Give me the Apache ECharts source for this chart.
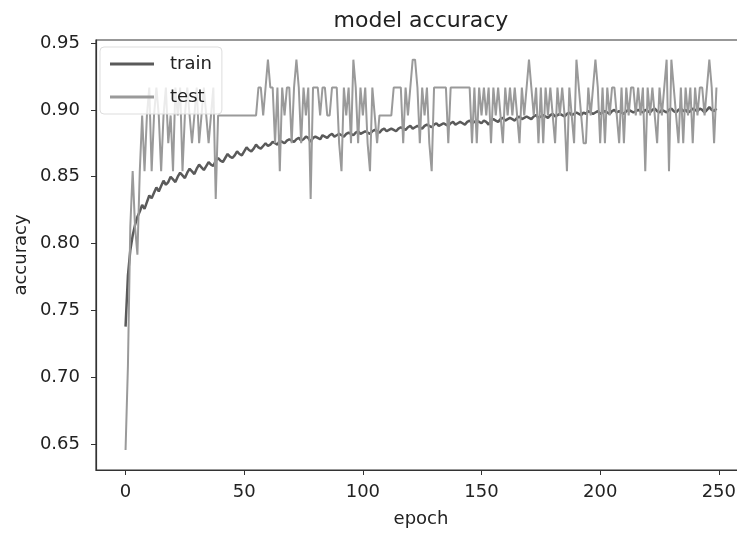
<!DOCTYPE html>
<html>
<head>
<meta charset="utf-8">
<script src="https://cdn.jsdelivr.net/npm/echarts@6/dist/echarts.min.js"></script>
<style>
html,body{margin:0;padding:0;background:#fff;}
#c{width:737px;height:533px;}
</style>
</head>
<body>
<div id="c"></div>
<script>
var seriesNames = ['train', 'test'];
var xTicks = [0, 50, 100, 150, 200, 250];
var yTicks = [0.65, 0.70, 0.75, 0.80, 0.85, 0.90, 0.95];

var train = [
0.738,0.776,0.795,0.806,0.814,0.820,0.824,0.829,0.826,0.831,
0.836,0.834,0.838,0.842,0.839,0.843,0.847,0.844,0.846,0.850,
0.848,0.846,0.850,0.853,0.851,0.849,0.853,0.856,0.854,0.852,
0.856,0.859,0.857,0.855,0.858,0.861,0.859,0.858,0.862,0.864,
0.862,0.861,0.864,0.867,0.865,0.864,0.866,0.869,0.867,0.866,
0.869,0.872,0.870,0.869,0.871,0.874,0.872,0.871,0.873,0.875,
0.873,0.874,0.876,0.875,0.874,0.877,0.876,0.875,0.877,0.878,
0.877,0.876,0.878,0.879,0.877,0.878,0.880,0.879,0.876,0.879,
0.880,0.879,0.878,0.881,0.880,0.879,0.881,0.882,0.880,0.881,
0.882,0.881,0.880,0.882,0.883,0.882,0.881,0.883,0.884,0.882,
0.883,0.884,0.883,0.882,0.884,0.885,0.884,0.883,0.885,0.886,
0.884,0.885,0.886,0.885,0.884,0.886,0.887,0.886,0.885,0.887,
0.888,0.886,0.887,0.888,0.887,0.886,0.888,0.889,0.888,0.887,
0.889,0.890,0.888,0.889,0.890,0.889,0.888,0.890,0.891,0.889,
0.890,0.891,0.890,0.889,0.891,0.892,0.890,0.891,0.892,0.891,
0.890,0.892,0.891,0.889,0.892,0.893,0.892,0.891,0.893,0.894,
0.892,0.893,0.894,0.893,0.892,0.894,0.895,0.893,0.894,0.895,
0.894,0.893,0.895,0.896,0.894,0.895,0.896,0.895,0.894,0.896,
0.897,0.895,0.896,0.897,0.896,0.895,0.897,0.898,0.896,0.897,
0.898,0.897,0.896,0.898,0.897,0.899,0.898,0.897,0.898,0.899,
0.897,0.898,0.899,0.898,0.897,0.899,0.900,0.898,0.899,0.898,
0.897,0.899,0.900,0.899,0.898,0.899,0.900,0.899,0.898,0.900,
0.899,0.898,0.900,0.901,0.899,0.898,0.900,0.899,0.898,0.900,
0.901,0.899,0.898,0.900,0.901,0.899,0.900,0.898,0.899,0.901,
0.900,0.899,0.901,0.900,0.898,0.900,0.902,0.900,0.899,0.901
];

var test = [
0.6458,0.7083,0.8125,0.8542,0.8125,0.7917,0.8542,0.8958,0.8542,0.8958,
0.9167,0.8542,0.8958,0.9167,0.8958,0.8542,0.8958,0.9167,0.875,0.8958,
0.8542,0.9167,0.8958,0.9167,0.8542,0.8958,0.9167,0.8958,0.875,0.8958,
0.9167,0.875,0.8958,0.9167,0.8958,0.875,0.8958,0.9167,0.8333,0.8958,
0.8958,0.8958,0.8958,0.8958,0.8958,0.8958,0.8958,0.8958,0.8958,0.8958,
0.8958,0.8958,0.8958,0.8958,0.8958,0.8958,0.9167,0.9167,0.8958,0.9167,
0.9375,0.9167,0.9167,0.875,0.9167,0.8542,0.9167,0.8958,0.9167,0.9167,
0.875,0.9167,0.9375,0.9167,0.875,0.9167,0.8958,0.9167,0.8333,0.9167,
0.9167,0.9167,0.8958,0.9167,0.9167,0.8958,0.8958,0.9167,0.9167,0.9167,
0.875,0.8542,0.9167,0.8958,0.9167,0.875,0.9375,0.9167,0.875,0.9167,
0.8958,0.9167,0.875,0.8542,0.9167,0.8958,0.875,0.8958,0.8958,0.8958,
0.8958,0.8958,0.8958,0.9167,0.9167,0.9167,0.9167,0.875,0.9167,0.8958,
0.9167,0.9375,0.9375,0.9167,0.875,0.9167,0.8958,0.9167,0.875,0.8542,
0.9167,0.9167,0.9167,0.9167,0.9167,0.9167,0.875,0.9167,0.9167,0.9167,
0.9167,0.9167,0.9167,0.9167,0.9167,0.9167,0.875,0.9167,0.875,0.9167,
0.8958,0.9167,0.8958,0.9167,0.875,0.9167,0.8958,0.9167,0.8958,0.875,
0.9167,0.8958,0.9167,0.8958,0.9167,0.8958,0.875,0.9167,0.8958,0.9167,
0.9375,0.9167,0.8958,0.9167,0.875,0.9167,0.875,0.9167,0.8958,0.9167,
0.8958,0.875,0.9167,0.8958,0.9167,0.8958,0.8542,0.9167,0.8958,0.875,
0.9375,0.9167,0.8958,0.875,0.875,0.9167,0.8958,0.9167,0.9375,0.9167,
0.875,0.9167,0.875,0.9167,0.8958,0.9167,0.9167,0.8958,0.875,0.9167,
0.875,0.9167,0.8958,0.9167,0.9167,0.8958,0.9167,0.8958,0.9167,0.8542,
0.9167,0.8958,0.9167,0.8958,0.875,0.9167,0.8958,0.9167,0.9375,0.8542,
0.9375,0.9167,0.8958,0.875,0.9167,0.875,0.9167,0.8958,0.9167,0.875,
0.9167,0.8958,0.9167,0.9167,0.8958,0.9167,0.9375,0.9167,0.875,0.9167
];

var FONT = 'DejaVu Sans';
var chart = echarts.init(document.getElementById('c'), null, {renderer: 'canvas'});

function pairs(arr) { return arr.map(function (v, i) { return [i, v]; }); }

chart.setOption({
  animation: false,
  backgroundColor: '#ffffff',
  textStyle: {fontFamily: FONT},
  grid: {
    left: 96, top: 40, width: 650, height: 430,
    outerBoundsMode: 'none',
    show: true, borderColor: '#333', borderWidth: 1.2, backgroundColor: 'transparent'
  },
  xAxis: {
    type: 'value', min: -12.45, max: 261.45,
    splitLine: {show: false},
    axisLine: {show: true, onZero: false, lineStyle: {color: '#333', width: 1.2}},
    axisTick: {show: true, customValues: xTicks, length: 5, inside: false, lineStyle: {color: '#333', width: 1}},
    axisLabel: {customValues: xTicks, margin: 13, color: '#222', fontSize: 18, fontFamily: FONT}
  },
  yAxis: {
    type: 'value', min: 0.6308, max: 0.9522,
    splitLine: {show: false},
    axisLine: {show: true, onZero: false, lineStyle: {color: '#333', width: 1.2}},
    axisTick: {show: true, customValues: yTicks, length: 5, inside: false, lineStyle: {color: '#333', width: 1}},
    axisLabel: {customValues: yTicks, margin: 16, color: '#222', fontSize: 18, fontFamily: FONT,
      formatter: function (v) { return v.toFixed(2); }}
  },
  legend: {
    left: 100, top: 47, orient: 'vertical',
    data: [{name: seriesNames[0], icon: 'rect'}, {name: seriesNames[1], icon: 'rect'}],
    itemWidth: 44, itemHeight: 3, itemGap: 15,
    padding: [8, 10, 8, 10],
    backgroundColor: 'rgba(255,255,255,0.8)',
    borderColor: '#dddddd', borderWidth: 1, borderRadius: 4,
    textStyle: {color: '#222', fontSize: 18, fontFamily: FONT, padding: [0, 0, 0, 11]}
  },
  graphic: [
    {type: 'text', x: 421, y: 21, style: {text: 'model accuracy', font: '22px "DejaVu Sans"', fill: '#222', align: 'center', verticalAlign: 'middle'}},
    {type: 'text', x: 421, y: 519, style: {text: 'epoch', font: '18px "DejaVu Sans"', fill: '#222', align: 'center', verticalAlign: 'middle'}},
    {type: 'text', x: 21, y: 255, rotation: Math.PI / 2, style: {text: 'accuracy', font: '18px "DejaVu Sans"', fill: '#222', align: 'center', verticalAlign: 'middle'}}
  ],
  series: [
    {name: seriesNames[0], type: 'line', data: pairs(train), showSymbol: false, symbol: 'none',
      lineStyle: {color: '#5a5a5a', width: 2.5}, itemStyle: {color: '#5a5a5a'}},
    {name: seriesNames[1], type: 'line', data: pairs(test), showSymbol: false, symbol: 'none',
      lineStyle: {color: '#9a9a9a', width: 2}, itemStyle: {color: '#9a9a9a'}}
  ]
});
</script>
</body>
</html>
